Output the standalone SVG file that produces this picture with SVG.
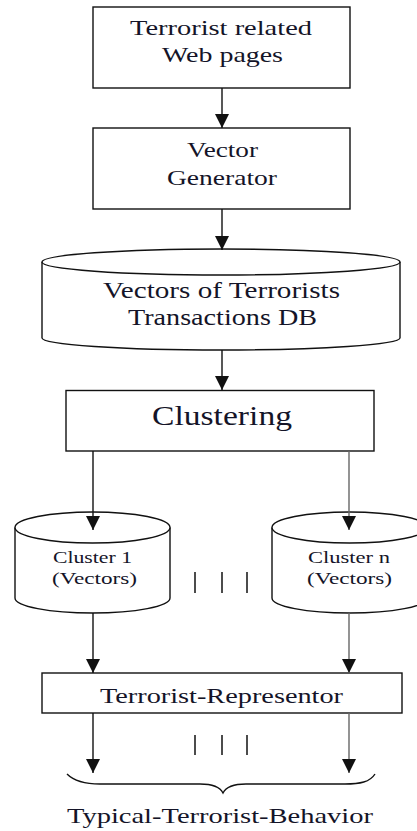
<svg xmlns="http://www.w3.org/2000/svg" width="417" height="831" viewBox="0 0 417 831">
<style>
.box{fill:#fff;stroke:#111;stroke-width:1.4}
.t{font-family:"Liberation Serif","Times New Roman",serif;fill:#141428;text-anchor:middle}
.c{fill:none;stroke:#111;stroke-width:1.4}
.g{fill:none;stroke:#666;stroke-width:1.4}
.bar{stroke:#111;stroke-width:1.5}
</style>
<defs>
<marker id="ah" markerUnits="userSpaceOnUse" markerWidth="14" markerHeight="14" viewBox="0 0 14 14" refX="14" refY="7" orient="auto">
<path d="M0,0 L14,7 L0,14 z" fill="#111"/>
</marker>
</defs>
<g id="web-pages">
<rect class="box" x="93" y="7" width="257" height="81"/>
<text class="t" x="221" y="35" font-size="21.7" textLength="182" lengthAdjust="spacingAndGlyphs">Terrorist related</text>
<text class="t" x="222.5" y="62" font-size="21.7" textLength="121" lengthAdjust="spacingAndGlyphs">Web pages</text>
</g>
<g id="vector-generator">
<rect class="box" x="93" y="128" width="257" height="81"/>
<text class="t" x="222.5" y="157" font-size="21.7" textLength="71" lengthAdjust="spacingAndGlyphs">Vector</text>
<text class="t" x="222" y="184.5" font-size="21.7" textLength="110" lengthAdjust="spacingAndGlyphs">Generator</text>
</g>
<g id="vectors-db">
<path class="box" d="M42,262 L42,338 A179,12 0 0 0 400,338 L400,262"/>
<ellipse class="box" cx="221" cy="262" rx="179" ry="13"/>
<text class="t" x="221.5" y="298" font-size="22.5" textLength="237" lengthAdjust="spacingAndGlyphs">Vectors of Terrorists</text>
<text class="t" x="222.5" y="325" font-size="22.5" textLength="189" lengthAdjust="spacingAndGlyphs">Transactions DB</text>
</g>
<g id="clustering">
<rect class="box" x="66" y="390.5" width="308" height="60.5"/>
<text class="t" x="222" y="425" font-size="27" textLength="140" lengthAdjust="spacingAndGlyphs">Clustering</text>
</g>
<g id="cluster-1">
<path class="box" d="M15,527.5 L15,598 A77.5,15 0 0 0 170,598 L170,527.5"/>
<ellipse class="box" cx="92.5" cy="527.5" rx="77.5" ry="15.5"/>
<text class="t" x="92.5" y="563" font-size="17.5" textLength="79" lengthAdjust="spacingAndGlyphs">Cluster 1</text>
<text class="t" x="94.5" y="584" font-size="17.5" textLength="85" lengthAdjust="spacingAndGlyphs">(Vectors)</text>
</g>
<g id="cluster-n">
<path class="box" d="M272,527.5 L272,598 A77.5,15 0 0 0 427,598 L427,527.5"/>
<ellipse class="box" cx="349.5" cy="527.5" rx="77.5" ry="15.5"/>
<text class="t" x="349" y="563" font-size="17.5" textLength="82" lengthAdjust="spacingAndGlyphs">Cluster n</text>
<text class="t" x="349.5" y="584" font-size="17.5" textLength="85" lengthAdjust="spacingAndGlyphs">(Vectors)</text>
</g>
<g id="ellipsis-1">
<line class="bar" x1="195" y1="572" x2="195" y2="593"/>
<line class="bar" x1="222" y1="572" x2="222" y2="593"/>
<line class="bar" x1="247" y1="572" x2="247" y2="593"/>
</g>
<g id="terrorist-representor">
<rect class="box" x="42" y="673" width="360" height="40"/>
<text class="t" x="221.5" y="703" font-size="20" textLength="243" lengthAdjust="spacingAndGlyphs">Terrorist-Representor</text>
</g>
<g id="ellipsis-2">
<line class="bar" x1="195" y1="735" x2="195" y2="755"/>
<line class="bar" x1="222" y1="735" x2="222" y2="755"/>
<line class="bar" x1="247" y1="735" x2="247" y2="755"/>
</g>
<g id="typical-behavior">
<path class="c" d="M67,774 C75,782 86,784 100,784 L200,784 C212,784 220,787 223,793 C226,787 234,784 246,784 L345,784 C360,784 370,782 375,774"/>
<text class="t" x="220" y="823" font-size="22" textLength="306" lengthAdjust="spacingAndGlyphs">Typical-Terrorist-Behavior</text>
</g>
<g id="connectors">
<line class="c" x1="222" y1="88" x2="222" y2="128" marker-end="url(#ah)"/>
<line class="c" x1="222" y1="209" x2="222" y2="250" marker-end="url(#ah)"/>
<line class="c" x1="222" y1="350" x2="222" y2="390" marker-end="url(#ah)"/>
<line class="c" x1="93" y1="451" x2="93" y2="530" marker-end="url(#ah)"/>
<line class="g" x1="349" y1="451" x2="349" y2="530" marker-end="url(#ah)"/>
<line class="c" x1="93" y1="613" x2="93" y2="673" marker-end="url(#ah)"/>
<line class="g" x1="349" y1="613" x2="349" y2="673" marker-end="url(#ah)"/>
<line class="c" x1="93" y1="713" x2="93" y2="773" marker-end="url(#ah)"/>
<line class="g" x1="349" y1="713" x2="349" y2="773" marker-end="url(#ah)"/>
</g>
</svg>
